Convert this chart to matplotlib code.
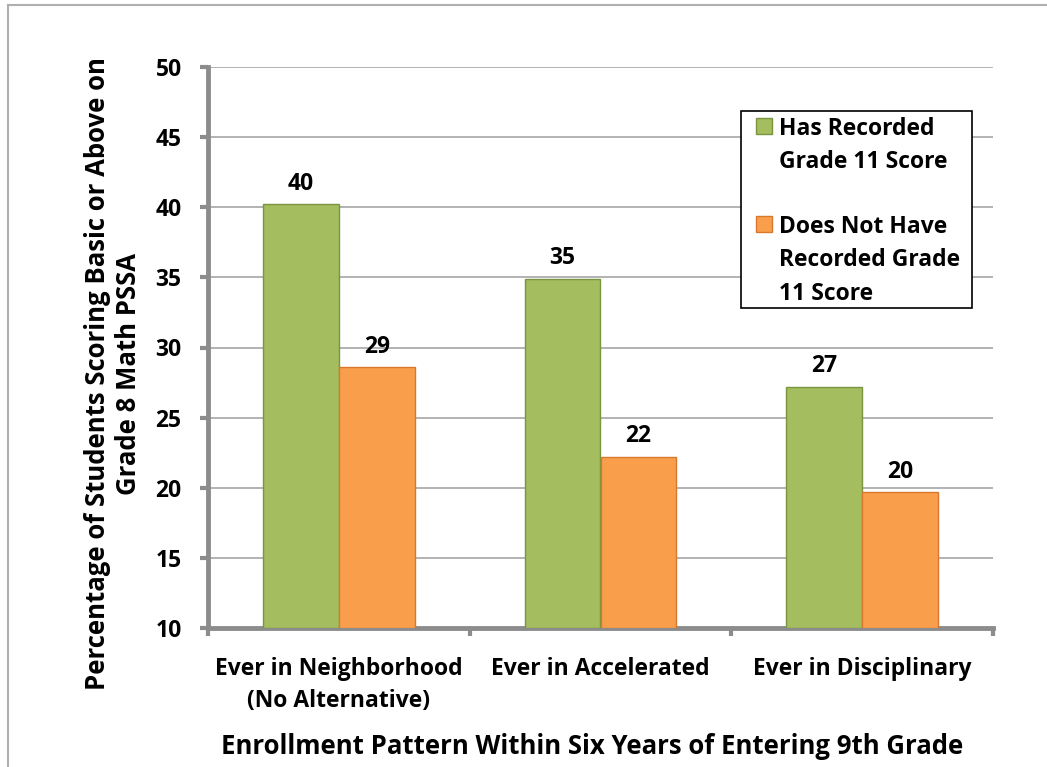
import matplotlib
matplotlib.use("Agg")
import matplotlib.pyplot as plt
from matplotlib.patches import Rectangle
from matplotlib.lines import Line2D
import numpy as np

plt.rcParams['font.family'] = ['Open Sans', 'DejaVu Sans']
plt.rcParams['font.weight'] = 'bold'
FS = 16.5
TITLE_FS = 18.5

# data
categories = ['Ever in Neighborhood\n(No Alternative)', 'Ever in Accelerated', 'Ever in Disciplinary']
has_score = [40.2, 34.9, 27.2]
no_score = [28.6, 22.2, 19.7]
series_names = ['Has Recorded\nGrade 11 Score', 'Does Not Have\nRecorded Grade\n11 Score']
yticks = [10, 15, 20, 25, 30, 35, 40, 45, 50]

green = '#A4BD5F'
green_edge = '#7A9440'
orange = '#F99F4C'
orange_edge = '#D9782C'
axis_gray = '#8C8C8C'

W, H = 1047, 767
fig = plt.figure(figsize=(W / 100, H / 100), dpi=100)
ax = fig.add_axes([208 / W, 1 - 628 / H, 785 / W, 561 / H])

x = np.arange(len(categories))
w = 0.29
b1 = ax.bar(x - w / 2, np.array(has_score) - 10, w, bottom=10, color=green,
            edgecolor=green_edge, linewidth=1, zorder=3)
b2 = ax.bar(x + w / 2, np.array(no_score) - 10, w, bottom=10, color=orange,
            edgecolor=orange_edge, linewidth=1, zorder=3)

for bars, vals in ((b1, has_score), (b2, no_score)):
    for r, v in zip(bars, vals):
        ax.text(r.get_x() + r.get_width() / 2, v + 0.6, '%.0f' % v,
                ha='center', va='bottom', fontsize=FS, fontweight='bold')

ax.set_xlim(-0.5, 2.5)
ax.set_ylim(10, 50)
ax.set_yticks(yticks)
ax.set_yticklabels([str(t) for t in yticks], fontsize=FS, fontweight='bold')
ax.yaxis.grid(True, color='#A6A6A6', linewidth=1.2, zorder=0)
ax.set_axisbelow(True)

# category labels sit between the outward tick marks at the group edges
ax.set_xticks([-0.5, 0.5, 1.5, 2.5])
ax.set_xticklabels([])
ax.set_xticks(x, minor=True)
ax.set_xticklabels(categories, minor=True, fontsize=FS, fontweight='bold',
                   linespacing=1.45)
ax.tick_params(axis='x', which='minor', length=0, pad=21)
ax.tick_params(axis='both', which='major', direction='out', length=6, width=3,
               color=axis_gray)
ax.tick_params(axis='y', pad=13)

for s in ('top', 'right'):
    ax.spines[s].set_visible(False)
for s in ('left', 'bottom'):
    ax.spines[s].set_color(axis_gray)
    ax.spines[s].set_linewidth(3.5)

fig.text(113 / W, 1 - 374 / H,
         'Percentage of Students Scoring Basic or Above on\nGrade 8 Math PSSA',
         rotation=90, ha='center', va='center', fontsize=TITLE_FS, fontweight='bold',
         multialignment='center', linespacing=1.15)
fig.text(592 / W, 1 - 747 / H, 'Enrollment Pattern Within Six Years of Entering 9th Grade',
         ha='center', va='center', fontsize=TITLE_FS, fontweight='bold')

# legend box with square swatches next to the first line of each entry
fig.add_artist(Rectangle((741 / W, 1 - 308 / H), 231 / W, 197 / H,
                         transform=fig.transFigure, facecolor='white',
                         edgecolor='black', linewidth=1.2, zorder=5))
for name, col, ec, base in ((series_names[0], green, green_edge, 135),
                            (series_names[1], orange, orange_edge, 233)):
    fig.add_artist(Rectangle((756 / W, 1 - (base - 1) / H), 16 / W, 16 / H,
                             transform=fig.transFigure, facecolor=col,
                             edgecolor=ec, linewidth=1, zorder=6))
    for i, line in enumerate(name.split('\n')):
        fig.text(779 / W, 1 - (base + 33.5 * i) / H, line, ha='left',
                 va='baseline', fontsize=FS, fontweight='bold', zorder=7)

# outer chart border (top and left edges)
fig.add_artist(Line2D([8 / W, 1], [1 - 5 / H, 1 - 5 / H],
                      transform=fig.transFigure, color='#B0B0B0', linewidth=1.5))
fig.add_artist(Line2D([8 / W, 8 / W], [0, 1 - 5 / H],
                      transform=fig.transFigure, color='#B0B0B0', linewidth=1.5))

fig.savefig('out.png', dpi=100)
